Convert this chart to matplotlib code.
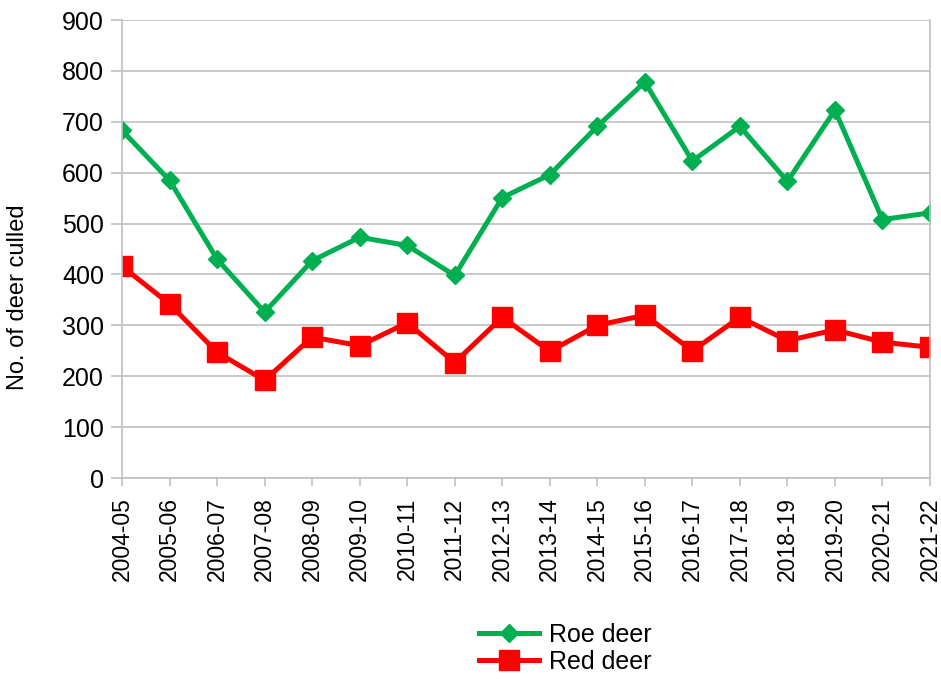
import matplotlib
matplotlib.use('Agg')
import matplotlib.pyplot as plt

plt.rcParams['font.family'] = ['Liberation Sans', 'DejaVu Sans']

seasons = ['2004-05', '2005-06', '2006-07', '2007-08', '2008-09', '2009-10',
           '2010-11', '2011-12', '2012-13', '2013-14', '2014-15', '2015-16',
           '2016-17', '2017-18', '2018-19', '2019-20', '2020-21', '2021-22']
roe_deer = [683, 585, 430, 326, 427, 473, 457, 398, 551, 596, 691, 778,
            623, 691, 583, 723, 508, 521]
red_deer = [416, 342, 247, 192, 277, 260, 305, 227, 316, 249, 300, 320,
            250, 316, 270, 291, 267, 257]

grey = '#c0c0c0'

fig = plt.figure(figsize=(9.41, 6.79), dpi=100)
ax = fig.add_axes([0.1297, 0.296, 0.8586, 0.6745])

x = range(len(seasons))
ax.plot(x, roe_deer, color='#00b050', linewidth=3.6, marker='D', markersize=9.5,
        label='Roe deer')
ax.plot(x, red_deer, color='#ff0000', linewidth=3.6, marker='s', markersize=14,
        label='Red deer')

ax.set_xlim(0, len(seasons) - 1)
ax.set_ylim(0, 900)
ax.set_yticks(range(0, 901, 100))
ax.set_xticks(list(x))
ax.set_xticklabels(seasons, rotation=90)
ax.tick_params(axis='both', color=grey, width=1.2)
ax.tick_params(axis='y', length=8, pad=5, labelsize=18)
ax.tick_params(axis='x', length=6, pad=8, labelsize=16.5)

ax.grid(axis='y', color=grey, linewidth=1.2)
ax.set_axisbelow(True)
for side in ['left', 'right', 'bottom']:
    ax.spines[side].set_color(grey)
    ax.spines[side].set_linewidth(1.2)
ax.spines['top'].set_visible(False)

ax.set_ylabel('No. of deer culled', fontsize=17)
ax.yaxis.set_label_coords(-0.115, 0.395)

fig.legend(loc='center', bbox_to_anchor=(0.601, 0.045), frameon=False,
           fontsize=18, handlelength=2.4, handletextpad=0.4, labelspacing=0.1,
           borderpad=0)

fig.savefig('out.png', dpi=100)
